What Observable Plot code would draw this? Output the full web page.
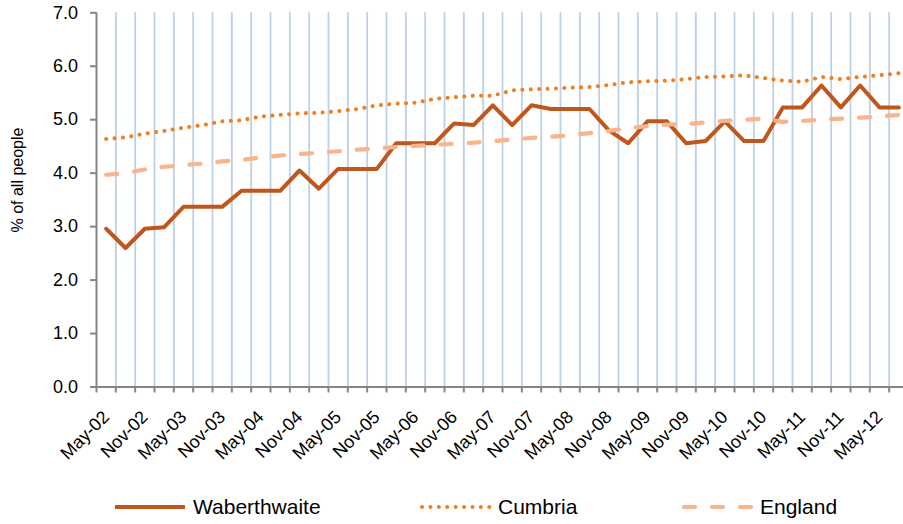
<!DOCTYPE html>
<html>
<head>
<meta charset="utf-8">
<script src="https://cdn.jsdelivr.net/npm/d3@7"></script>
<script src="https://cdn.jsdelivr.net/npm/@observablehq/plot@0.6"></script>
<style>
  html, body { margin: 0; padding: 0; background: #fff; overflow: hidden; }
  body { width: 903px; height: 524px; position: relative; font-family: "Liberation Sans", Arial, sans-serif; }
  #chart { position: absolute; left: 0; top: 0; }
  #ytitle { position: absolute; left: 18px; top: 180px; transform: translate(-50%, -50%) rotate(-90deg); font-size: 16px; white-space: nowrap; color: #000; }
  .leg { position: absolute; top: 494px; height: 26px; display: flex; align-items: center; font-size: 21px; color: #000; white-space: nowrap; }
  .leg svg { margin-right: 6px; }
</style>
</head>
<body>
<div id="chart"></div>
<div id="ytitle">% of all people</div>
<div id="legend"></div>
<script>
const quarters = ["May-02","Aug-02","Nov-02","Feb-03","May-03","Aug-03","Nov-03","Feb-04","May-04","Aug-04","Nov-04","Feb-05","May-05","Aug-05","Nov-05","Feb-06","May-06","Aug-06","Nov-06","Feb-07","May-07","Aug-07","Nov-07","Feb-08","May-08","Aug-08","Nov-08","Feb-09","May-09","Aug-09","Nov-09","Feb-10","May-10","Aug-10","Nov-10","Feb-11","May-11","Aug-11","Nov-11","Feb-12","May-12","Aug-12"];
const waberthwaite = [2.96,2.60,2.96,2.99,3.37,3.37,3.37,3.67,3.67,3.67,4.05,3.71,4.08,4.08,4.08,4.56,4.56,4.56,4.93,4.90,5.27,4.90,5.27,5.20,5.20,5.20,4.80,4.56,4.97,4.97,4.56,4.60,4.97,4.60,4.60,5.23,5.23,5.64,5.23,5.64,5.23,5.23];
const cumbria = [4.64,4.67,4.74,4.79,4.85,4.90,4.97,4.99,5.06,5.09,5.12,5.13,5.16,5.20,5.27,5.30,5.32,5.39,5.42,5.45,5.45,5.55,5.57,5.58,5.60,5.61,5.65,5.70,5.72,5.73,5.76,5.80,5.81,5.83,5.78,5.73,5.71,5.80,5.76,5.80,5.83,5.87];
const england = [3.97,4.00,4.07,4.12,4.15,4.18,4.22,4.25,4.29,4.33,4.36,4.38,4.41,4.44,4.46,4.49,4.51,4.53,4.55,4.57,4.60,4.63,4.66,4.68,4.71,4.75,4.79,4.84,4.88,4.91,4.92,4.95,4.98,5.00,5.02,4.96,4.98,5.00,5.02,5.04,5.06,5.09];
const yTicks = [0,1,2,3,4,5,6,7];
const seriesNames = ["Waberthwaite","Cumbria","England"];

const colW = "#c0561c", colC = "#f07f22", colE = "#f8b48a";
const gridCol = "#bcd0e8", axisCol = "#868686";

const data = quarters.map((q, i) => ({i, q, w: waberthwaite[i], c: cumbria[i], e: england[i]}));
const n = quarters.length;
const boundaries = d3.range(-0.5, n, 1);          // category boundaries (tick marks)
const inner = boundaries.slice(1);                 // gridlines between categories
const labelled = data.filter(d => d.i % 2 === 0);  // every second category labelled

const chart = Plot.plot({
  width: 903,
  height: 470,
  marginLeft: 96,
  marginRight: -5,
  marginTop: 12.3,
  marginBottom: 83.5,
  style: {fontFamily: "'Liberation Sans', Arial, sans-serif", background: "white", color: "#000"},
  x: {type: "linear", domain: [-0.5, n - 0.5], axis: null},
  y: {type: "linear", domain: [0, 7], axis: null},
  marks: [
    Plot.ruleX(inner, {x: d => d, y1: 0, y2: 7, stroke: gridCol, strokeWidth: 1.8}),
    Plot.ruleX([-0.5], {y1: 0, y2: 7, stroke: axisCol, strokeWidth: 2}),
    Plot.ruleX(boundaries, {x: d => d, y1: 0, y2: 0, insetBottom: -6, stroke: axisCol, strokeWidth: 2}),
    Plot.ruleY([0], {stroke: axisCol, strokeWidth: 2}),
    Plot.axisY({ticks: yTicks, tickFormat: d3.format(".1f"), tickSize: 6, tickPadding: 12.5, fontSize: 18, stroke: axisCol, strokeWidth: 2, fill: "#000", label: null}),
    Plot.text(labelled, {x: "i", y: 0, text: "q", rotate: -45, textAnchor: "end", lineAnchor: "middle", dy: 27, dx: 0, fontSize: 18, fill: "#000"}),
    Plot.line(data, {x: "i", y: "w", stroke: colW, strokeWidth: 4, strokeLinejoin: "round"}),
    Plot.line(data, {x: "i", y: "c", stroke: colC, strokeWidth: 4, strokeLinecap: "round", strokeDasharray: "0.1 8.3"}),
    Plot.line(data, {x: "i", y: "e", stroke: colE, strokeWidth: 4.2, strokeLinecap: "round", strokeDasharray: "11 17"})
  ]
});
document.getElementById("chart").appendChild(chart);

// legend
const legend = document.getElementById("legend");
const legItems = [
  {name: seriesNames[0], left: 115, color: colW, w: 4, dash: null, cap: "butt"},
  {name: seriesNames[1], left: 420, color: colC, w: 4, dash: "0.1 8.3", cap: "round"},
  {name: seriesNames[2], left: 682, color: colE, w: 4.2, dash: "11 17", cap: "round"}
];
legItems.forEach(it => {
  const div = document.createElement("div");
  div.className = "leg";
  div.style.left = it.left + "px";
  div.innerHTML = `<svg width="72" height="10"><line x1="${it.cap === "round" ? 2 : 0}" y1="5" x2="70" y2="5" stroke="${it.color}" stroke-width="${it.w}" stroke-linecap="${it.cap}" ${it.dash ? `stroke-dasharray="${it.dash}"` : ""}/></svg><span>${it.name}</span>`;
  legend.appendChild(div);
});
</script>
</body>
</html>
